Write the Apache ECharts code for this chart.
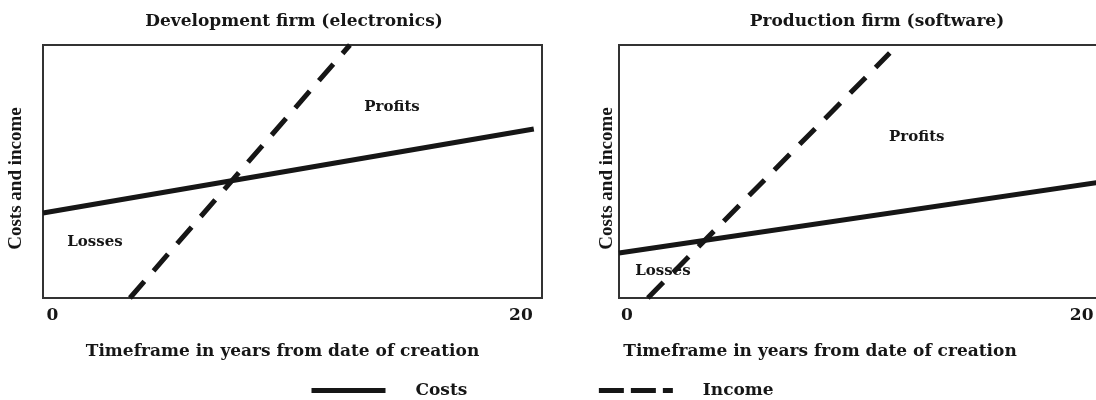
<!DOCTYPE html>
<html>
<head>
<meta charset="utf-8">
<script src="https://cdn.jsdelivr.net/npm/echarts@6/dist/echarts.min.js"></script>
<style>html,body{margin:0;padding:0;background:#fff}#c{width:1096px;height:400px}</style>
</head>
<body>
<div id="c"></div>
<script>
// ---- data (x = years from creation, y = relative costs / income, 0..100) ----
const panelTitles = ['Development firm (electronics)', 'Production firm (software)'];
const xTickValues = [0, 20];
const xAxisName = 'Timeframe in years from date of creation';
const yAxisName = 'Costs and income';
const seriesNames = ['Costs', 'Income'];

const costsDevelopment = [[-0.4, 33.6], [20.55, 66.8]];
const incomeDevelopment = [[3.31, 0], [12.7, 100]];
const costsProduction = [[-0.35, 17.8], [21.6, 46.8]];
const incomeProduction = [[0.92, 0], [11.56, 96.8]];

const labelsDevelopment = [['Profits', 14.5, 75.5], ['Losses', 1.82, 22.1]];
const labelsProduction = [['Profits', 12.75, 63.6], ['Losses', 1.58, 10.7]];

// ---- styles ----
const serif = 'DejaVu Serif';
const ink = '#161616';
const chart = echarts.init(document.getElementById('c'), null, {renderer: 'canvas'});

function xAxis(i, min, max, namePad) {
  return {
    type: 'value', gridIndex: i, min: min, max: max,
    axisLine: {show: false}, axisTick: {show: false}, splitLine: {show: false},
    axisLabel: {customValues: xTickValues, margin: 9, fontFamily: serif, fontWeight: 'bold', fontSize: 17, color: ink},
    name: xAxisName, nameLocation: 'middle', nameGap: 45,
    nameTextStyle: {fontFamily: serif, fontWeight: 'bold', fontSize: 17, color: ink, padding: namePad}
  };
}
function yAxis(i, gap) {
  return {
    type: 'value', gridIndex: i, min: 0, max: 100,
    axisLine: {show: false}, axisTick: {show: false}, splitLine: {show: false}, axisLabel: {show: false},
    name: yAxisName, nameLocation: 'middle', nameGap: gap,
    nameTextStyle: {fontFamily: 'Liberation Serif', fontWeight: 'bold', fontSize: 19, color: ink, padding: [0, 14, 0, 0]}
  };
}
function lineSeries(name, data, i, dashed) {
  return {
    type: 'line', name: name, xAxisIndex: i, yAxisIndex: i, data: data,
    symbol: 'none', silent: true, animation: false,
    lineStyle: {color: ink, width: 5, type: dashed ? [22, 14] : 'solid', cap: 'butt'},
    itemStyle: {color: ink}
  };
}
function labelSeries(labels, i) {
  return {
    type: 'scatter', xAxisIndex: i, yAxisIndex: i, symbolSize: 0, silent: true, animation: false,
    itemStyle: {opacity: 1},
    data: labels.map(l => ({value: [l[1], l[2]], name: l[0]})),
    label: {show: true, position: 'inside', formatter: p => p.name, opacity: 1,
      fontFamily: serif, fontWeight: 'bold', fontSize: 15, color: ink}
  };
}
const gridBase = {show: true, top: 45, height: 253, width: 499, outerBoundsMode: 'none',
  borderColor: '#333', borderWidth: 2, backgroundColor: 'transparent'};

chart.setOption({
  backgroundColor: '#fff',
  animation: false,
  title: [
    {text: panelTitles[0], left: 289, top: 8, textAlign: 'center',
      textStyle: {fontFamily: serif, fontWeight: 'bold', fontSize: 17, color: ink}},
    {text: panelTitles[1], left: 872, top: 8, textAlign: 'center',
      textStyle: {fontFamily: serif, fontWeight: 'bold', fontSize: 17, color: ink}}
  ],
  grid: [Object.assign({left: 43}, gridBase), Object.assign({left: 619}, gridBase)],
  xAxis: [xAxis(0, -0.4, 20.9, [0, 20, 0, 0]), xAxis(1, -0.35, 21.6, [0, 97, 0, 0])],
  yAxis: [yAxis(0, 17), yAxis(1, 2)],
  legend: {
    left: 304, top: 377, itemWidth: 74, itemHeight: 12, itemGap: 129,
    selectedMode: false,
    itemStyle: {color: 'rgba(0,0,0,0)', borderWidth: 0},
    lineStyle: {width: 5, color: ink},
    data: [
      {name: seriesNames[0]},
      {name: seriesNames[1], lineStyle: {type: [25, 7], width: 5, color: ink}}
    ],
    textStyle: {fontFamily: serif, fontWeight: 'bold', fontSize: 17, color: ink, padding: [0, 0, 0, 25]}
  },
  series: [
    lineSeries(seriesNames[0], costsDevelopment, 0, false),
    lineSeries(seriesNames[1], incomeDevelopment, 0, true),
    lineSeries(seriesNames[0], costsProduction, 1, false),
    lineSeries(seriesNames[1], incomeProduction, 1, true),
    labelSeries(labelsDevelopment, 0),
    labelSeries(labelsProduction, 1)
  ]
});
</script>
</body>
</html>
